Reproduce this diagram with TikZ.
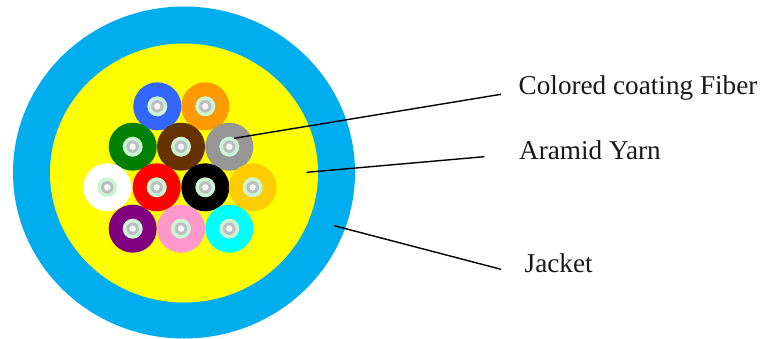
\documentclass[tikz,border=0pt]{standalone}
\usepackage{fontspec}
\setmainfont{Liberation Serif}
\definecolor{jacketc}{HTML}{00AEEF}
\definecolor{cyellow}{HTML}{FFFF00}
\definecolor{ccyan}{HTML}{00FFFF}
\definecolor{cred}{HTML}{FF0000}
\definecolor{mint}{HTML}{CCF5D3}
\definecolor{coregray}{HTML}{BDBDC4}
\definecolor{corelight}{HTML}{F6F6F6}
\definecolor{cblue}{HTML}{3366FF}
\definecolor{corange}{HTML}{FF9900}
\definecolor{cgreen}{HTML}{008000}
\definecolor{cbrown}{HTML}{663300}
\definecolor{cgray}{HTML}{969696}
\definecolor{camber}{HTML}{FFCC00}
\definecolor{cpurple}{HTML}{800080}
\definecolor{cpink}{HTML}{FF99CC}
\tikzset{
  disc/.style={circle,inner sep=0pt,outer sep=0pt,minimum size=#1},
  label text/.style={font=\fontsize{27.2pt}{32pt}\selectfont,anchor=base west,inner sep=0pt,text=black!90},
  leader/.style={draw=black,line width=1.4pt}
}
\newcommand{\fibre}[4]{%
  \node[disc=48pt,fill=#4] (f#1) at (#2,#3) {};
  \node[disc=20pt,fill=mint] (m#1) at (f#1.center) {};
  \node[disc=12.5pt,fill=coregray] (g#1) at (f#1.center) {};
  \node[disc=6.5pt,fill=corelight] (c#1) at (f#1.center) {};
}
\begin{document}
\begin{tikzpicture}[x=1pt,y=-1pt]
\useasboundingbox (0,0) rectangle (760,338);
\fill[white] (0,0) rectangle (760,338);
\fill[jacketc] (184,172.5) ellipse [x radius=171,y radius=166];
\fill[cyellow] (184,173) ellipse [x radius=134,y radius=129.5];
\fibre{a}{157.3}{106.3}{cblue}
\fibre{b}{205.3}{106.3}{corange}
\fibre{c}{132.7}{146.7}{cgreen}
\fibre{d}{181}{146.7}{cbrown}
\fibre{e}{229.3}{146.7}{cgray}
\fibre{f}{107.3}{187.3}{white}
\fibre{g}{156.7}{187.3}{cred}
\fibre{h}{205.3}{187.3}{black}
\fibre{i}{252.7}{187.3}{camber}
\fibre{j}{132.7}{228.7}{cpurple}
\fibre{k}{181}{228.7}{cpink}
\fibre{l}{229.3}{228.7}{ccyan}
\node[label text] (t1) at (518.5,94.3) {Colored coating Fiber};
\node[label text] (t2) at (519,159.3) {Aramid Yarn};
\node[label text] (t3) at (524.5,272.7) {Jacket};
\coordinate (p1) at (234,138.3);
\coordinate (q1) at (501,94.3);
\coordinate (p2) at (306.7,172.3);
\coordinate (q2) at (484.3,156.7);
\coordinate (p3) at (334.3,225.7);
\coordinate (q3) at (501,269.3);
\draw[leader] (p1) -- (q1);
\draw[leader] (p2) -- (q2);
\draw[leader] (p3) -- (q3);
\end{tikzpicture}
\end{document}
